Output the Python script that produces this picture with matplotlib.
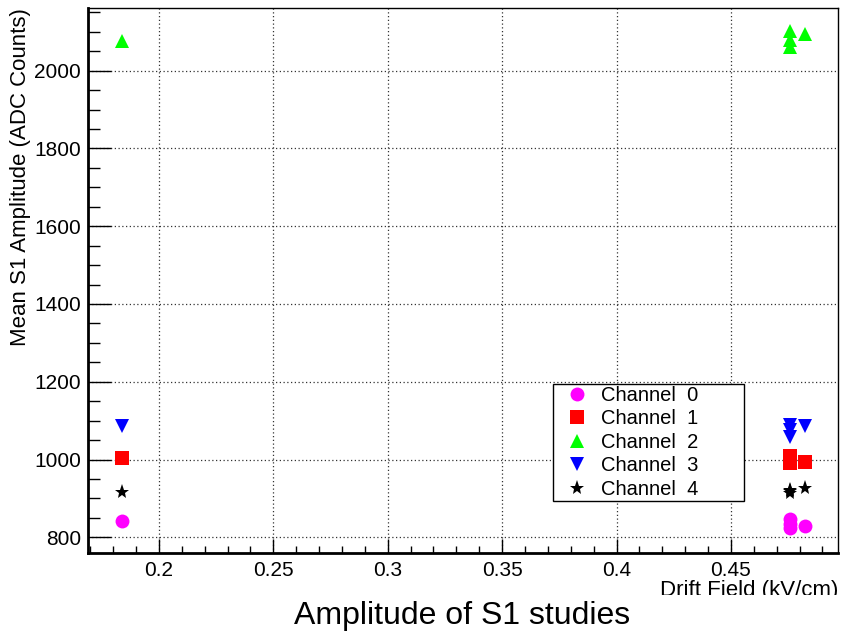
import matplotlib
matplotlib.use("Agg")
import matplotlib.pyplot as plt
from matplotlib.ticker import MultipleLocator
from matplotlib.patches import Rectangle

plt.rcParams['font.family'] = ['Liberation Sans', 'DejaVu Sans']

# drift field runs (kV/cm)
drift_field = [0.1837, 0.4758, 0.4758, 0.4758, 0.4823]

# mean S1 amplitude per channel (ADC counts)
ch0 = [843, 846, 835, 823, 828]
ch1 = [1005, 1008, 999, 990, 994]
ch2 = [2077, 2101, 2080, 2062, 2093]
ch3 = [1087, 1090, 1075, 1059, 1087]
ch4 = [917, 922, 918, 914, 927]

channels = [ch0, ch1, ch2, ch3, ch4]
labels = ["Channel  0", "Channel  1", "Channel  2", "Channel  3", "Channel  4"]
colors = ["#ff00ff", "#ff0000", "#00ff00", "#0000ff", "#000000"]
markers = ["o", "s", "^", "v", "*"]
msizes = [10, 9.5, 10, 10, 11]

fig = plt.figure(figsize=(8.42, 6.36), dpi=100)
ax = fig.add_axes([88 / 842, 1 - 553 / 636, 750 / 842, 545 / 636])

for vals, lab, col, mk, ms in zip(channels, labels, colors, markers, msizes):
    ax.plot(drift_field, vals, linestyle="none", marker=mk, color=col,
            markersize=ms, markeredgewidth=0, label=lab, zorder=3)

ax.set_xlim(0.1690, 0.4968)
ax.set_ylim(759.6, 2161)

ax.xaxis.set_major_locator(MultipleLocator(0.05))
ax.xaxis.set_minor_locator(MultipleLocator(0.01))
ax.yaxis.set_major_locator(MultipleLocator(200))
ax.yaxis.set_minor_locator(MultipleLocator(50))
ax.xaxis.set_major_formatter(plt.FuncFormatter(lambda v, p: f"{v:g}"))

ax.tick_params(axis="both", which="both", direction="in", top=False, right=False,
               labelsize=15, width=1, color="black")
ax.tick_params(axis="y", which="major", length=16.5, pad=5)
ax.tick_params(axis="y", which="minor", length=8.6)
ax.tick_params(axis="x", which="major", length=10, pad=6)
ax.tick_params(axis="x", which="minor", length=5)

ax.grid(True, which="major", linestyle=(0, (1, 2)), color="#333333", linewidth=0.9)

for side in ["left", "bottom"]:
    ax.spines[side].set_linewidth(2)
for side in ["top", "right"]:
    ax.spines[side].set_linewidth(1)

ax.set_ylabel("Mean S1 Amplitude (ADC Counts)", fontsize=16)
ax.yaxis.set_label_coords(-0.076, 1.0)
ax.yaxis.label.set_ha("right")
ax.set_xlabel("Drift Field (kV/cm)", fontsize=16)
ax.xaxis.set_label_coords(1.0, -0.050)
ax.xaxis.label.set_ha("right")

leg = ax.legend(loc="upper left", bbox_to_anchor=(0.62, 0.101, 0.2547, 0.209),
                mode="expand", borderaxespad=0, fontsize=14.5, frameon=True,
                fancybox=False, framealpha=1, edgecolor="black",
                borderpad=0.1, labelspacing=0.22, handlelength=2.2,
                handletextpad=0.1, numpoints=1)
leg.get_frame().set_linewidth(1)

# white title pad covering the lower part of the x label, like the ROOT canvas
fig.patches.append(Rectangle((0, 0), 1, 41 / 636, transform=fig.transFigure,
                             facecolor="white", edgecolor="none", zorder=2))
fig.text(462 / 842, 1 - 624 / 636, "Amplitude of S1 studies", fontsize=23,
         ha="center", va="baseline", zorder=3)

fig.savefig("out.png", dpi=100)
